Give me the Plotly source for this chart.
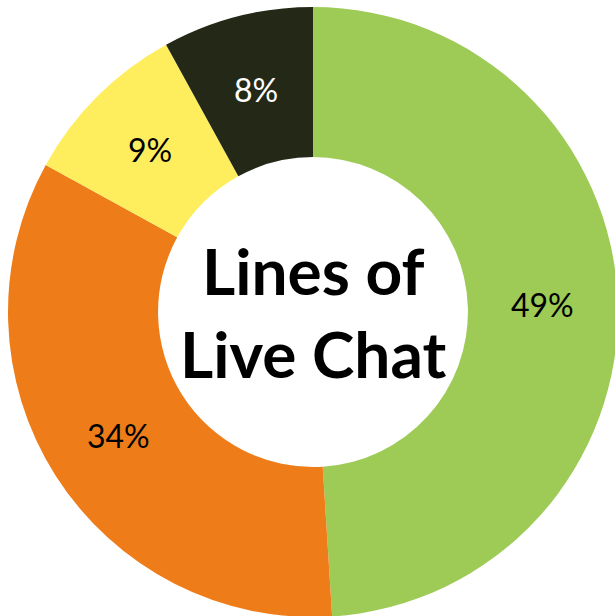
import math
import plotly.graph_objects as go

categories = ["Green", "Orange", "Yellow", "Dark"]
values = [49, 34, 9, 8]
labels_text = ["49%", "34%", "9%", "8%"]
colors = ["#9DCB55", "#EE7D19", "#FEEE5E", "#242917"]
text_colors = ["black", "black", "black", "white"]
center_title = "Lines of<br>Live Chat"

HOLE = 0.508

fig = go.Figure(go.Pie(
    labels=categories,
    values=values,
    textinfo="none",
    sort=False,
    direction="clockwise",
    rotation=0,
    hole=HOLE,
    marker=dict(colors=colors, line=dict(width=0)),
    showlegend=False,
    hoverinfo="none",
))

# percentage labels at the middle of each ring segment (derived from the values)
total = sum(values)
cum = 0.0
r_mid = 0.5 * (1 + HOLE) / 2
for v, t, c in zip(values, labels_text, text_colors):
    frac = (cum + v / 2) / total
    theta = 2 * math.pi * frac
    fig.add_annotation(
        text=t, xref="paper", yref="paper",
        x=0.5 + r_mid * math.sin(theta), y=0.5 + r_mid * math.cos(theta),
        xanchor="center", yanchor="middle",
        showarrow=False, font=dict(family="Lato", size=32, color=c),
    )
    cum += v

fig.add_annotation(
    text=center_title, x=0.5, y=0.5, xref="paper", yref="paper",
    xanchor="center", yanchor="middle",
    showarrow=False, font=dict(family="Lato", size=64, color="black", weight="bold"),
)

fig.update_layout(
    width=618, height=617,
    margin=dict(l=8, r=0, t=7, b=0),
    paper_bgcolor="white", plot_bgcolor="white",
)

fig.write_html("out.html")
